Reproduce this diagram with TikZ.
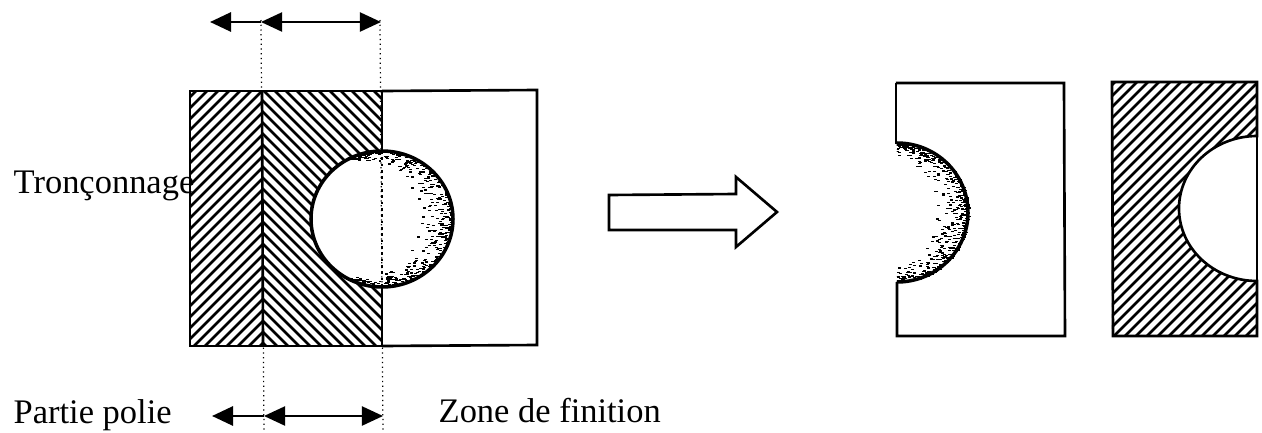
\documentclass[tikz,border=0pt]{standalone}
\usepackage{fontspec}
\setmainfont{Liberation Serif}
\usetikzlibrary{arrows.meta}
\tikzset{
  outline/.style={line width=.75pt,line join=miter},
  rim/.style={line width=1pt},
  hatchline/.style={line width=.72pt},
  guide/.style={line width=.35pt,densely dotted},
  dimline/.style={line width=.6pt,{Triangle[length=2.1mm,width=1.9mm]}-{Triangle[length=2.1mm,width=1.9mm]}},
  dimleft/.style={line width=.8pt,{Triangle[length=2.1mm,width=1.9mm]}-},
  label/.style={font=\fontsize{9.8}{11}\selectfont,anchor=base west,inner sep=0pt},
}
% speckled edge of a polished bore: centre x, centre y, x radius, y radius, largest angle
\newcommand{\speckles}[5]{
  \foreach \i in {1,...,550} {
    \pgfmathsetmacro{\ang}{rand*#5}
    \pgfmathsetmacro{\dep}{(5+30*cos(\ang/1.25))*rnd*rnd}
    \fill ({#1+(#3-\dep)*cos(\ang)},{#2+(#4-\dep)*sin(\ang)}) rectangle +(3,1.2);
  }
}
\begin{document}
\begin{tikzpicture}[x=.01cm,y=-.01cm]
  \useasboundingbox (0,0) rectangle (1262,433);
  \pgfmathsetseed{42}
  % Hatched strips of the blank.
  \begin{scope}
    \clip (190,91) rectangle (262,346);
    \foreach \x in {-70,-59,...,260} \draw[hatchline] (\x,346) -- ({\x+255},91);
  \end{scope}
  \begin{scope}
    \clip (262,91) rectangle (382,346);
    \foreach \x in {0,11,...,380} \draw[hatchline] (\x,91) -- ({\x+255},346);
  \end{scope}
  % Bore through the blank.
  \fill[white] (382,219) ellipse[x radius=71,y radius=68];
  \begin{scope}
    \clip (382,219) ellipse[x radius=71,y radius=68];
    \speckles{382}{219}{71}{68}{118}
  \end{scope}
  \draw[outline] (190,91) rectangle (382,346);
  \fill[white] (381,153) rectangle (384,285);
  \draw[rim] (382,219) ellipse[x radius=71,y radius=68];
  \draw[outline] (382,91) -- (537,90) -- (537,345) -- (382,346);
  \draw[outline] (262,91) -- (263,346);
  % Guide lines and widths.
  \coordinate (guideAtop) at (261,20);
  \coordinate (guideAbot) at (264,433);
  \coordinate (guideBtop) at (380,20);
  \coordinate (guideBbot) at (383,433);
  \draw[guide] (guideAtop) -- (guideAbot);
  \draw[guide] (guideBtop) -- (guideBbot);
  \draw[densely dotted,line width=.8pt] (382,151) -- (382,287);
  \coordinate (topL) at (210,22);
  \coordinate (topA) at (261,22);
  \coordinate (topB) at (381,22);
  \coordinate (botL) at (212,416);
  \coordinate (botA) at (264,416);
  \coordinate (botB) at (383,416);
  \draw[dimleft] (topL) -- (topA);
  \draw[dimline] (topA) -- (topB);
  \draw[dimleft] (botL) -- (botA);
  \draw[dimline] (botA) -- (botB);
  % Block arrow between the two states.
  \draw[outline] (609,195) -- (736,194) -- (736,177) -- (777,212) -- (736,247) -- (736,230) -- (609,230) -- cycle;
  % Finished piece with its half bore.
  \begin{scope}
    \clip (897,143) rectangle (975,282);
    \speckles{897}{212.5}{71}{69.5}{92}
  \end{scope}
  \draw[outline] (896,83) -- (1064,83) -- (1065,336) -- (897,336) -- (897,282);
  \draw[rim] (897,282) arc[start angle=90,end angle=-90,x radius=71,y radius=69.5];
  \draw[outline] (897,143) -- (896,143) -- (896,83);
  % Offcut, hatched.
  \begin{scope}
    \clip (1112,82) rectangle (1257,336);
    \foreach \x in {850,861,...,1260} \draw[hatchline] (\x,336) -- ({\x+254},82);
  \end{scope}
  \fill[white] (1257,136) arc[start angle=-90,end angle=-270,x radius=78,y radius=72.5] -- cycle;
  \draw[outline] (1112,82) -- (1257,82) -- (1257,136)
    arc[start angle=-90,end angle=-270,x radius=78,y radius=72.5] -- (1257,336) -- (1113,336) -- cycle;
  \draw[outline] (1257,136) -- (1257,281);
  % Labels.
  \node[label] (cut) at (13,193) {Tronçonnage};
  \node[label] (polished) at (13,423) {Partie polie};
  \node[label] (finish) at (438,422) {Zone de finition};
\end{tikzpicture}
\end{document}
